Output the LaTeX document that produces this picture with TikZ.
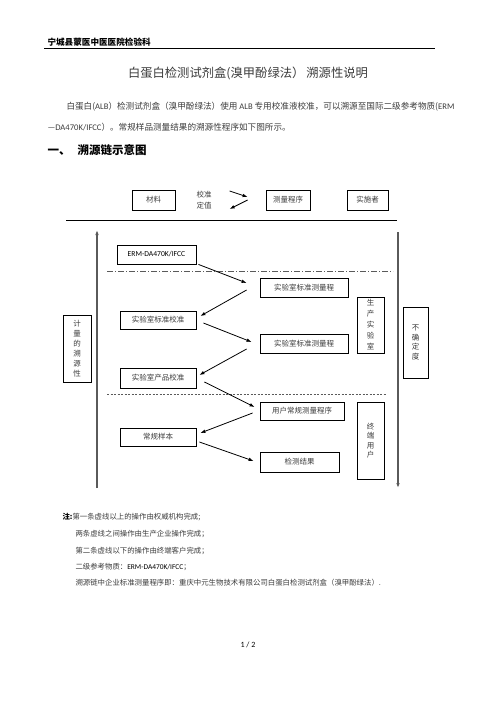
\documentclass[tikz,border=0pt]{standalone}
\usepackage{fontspec}
\setmainfont{Noto Sans CJK SC}
\newfontfamily\latinfont{Carlito}
\usetikzlibrary{arrows.meta}
\definecolor{inkgray}{RGB}{60,60,60}
\definecolor{linegray}{RGB}{90,90,90}

\begin{document}
\begin{tikzpicture}[x=1pt,y=-1pt,>={Latex[length=5pt,width=3.6pt]},
    box/.style={draw,line width=0.8pt,inner sep=0pt,text=inkgray,
      font=\fontsize{7.5}{9}\selectfont},
    vbox/.style={box,align=center,font=\fontsize{7.5}{#1}\selectfont},
    link/.style={->,line width=0.8pt},
    txt/.style={anchor=west,text=inkgray,font=\fontsize{7.4}{9}\selectfont}]
  \fill[white] (0,0) rectangle (496,702);
  \useasboundingbox (0,0) rectangle (496,702);

  % page head
  \node[anchor=west,font=\bfseries\fontsize{8.6}{10}\selectfont] (hosp) at (44,42) {宁城县蒙医中医医院检验科};
  \draw[line width=0.9pt] (44,48) -- (435,48);
  \node[font=\fontsize{12.3}{14}\selectfont,text=inkgray] (title) at (248,73)
    {白蛋白检测试剂盒(溴甲酚绿法）\,溯源性说明};
  \node[anchor=west,text=inkgray,font=\fontsize{8.6}{10}\selectfont] (para1) at (63,107)
    {白蛋白({\latinfont ALB}）检测试剂盒（溴甲酚绿法）使用 {\latinfont ALB} 专用校准液校准，可以溯源至国际二级参考物质({\latinfont ERM}};
  \node[anchor=west,text=inkgray,font=\fontsize{8.6}{10}\selectfont] (para2) at (44,127)
    {{\latinfont —DA470K/IFCC}）。常规样品测量结果的溯源性程序如下图所示。};
  \node[anchor=west,font=\bfseries\fontsize{11.5}{13}\selectfont] (sec) at (44,150)
    {一、\hspace{7pt}溯源链示意图};

  % top row
  \node[box,minimum width=43,minimum height=20] (mat) at (153.5,200) {材料};
  \node[box,minimum width=44,minimum height=20] (proc) at (288,200) {测量程序};
  \node[box,minimum width=41,minimum height=20] (actor) at (367.5,200) {实施者};
  \node[align=center,text=inkgray,font=\fontsize{7.5}{11}\selectfont] (calib) at (204,200) {校准\\定值};
  \draw[link] ([shift={(-36,-9)}]proc.west) -- ([shift={(-18,-3)}]proc.west);
  \draw[link] ([shift={(-18,0)}]proc.west) -- ([shift={(-36,9)}]proc.west);
  \draw[line width=0.9pt] (66,220) -- (397,220);

  % side axes
  \draw[->,line width=1.2pt,linegray] (97,488) -- (97,230);
  \draw[->,line width=1.2pt,linegray] (398,232) -- (398,488);
  \node[vbox=10,minimum width=28,minimum height=67] (trace) at (77,348.5) {计\\量\\的\\溯\\源\\性};
  \node[vbox=9.5,minimum width=25,minimum height=71] (unc) at (415.5,342.5) {不\\确\\定\\度};

  % chain
  \node[box,minimum width=79,minimum height=19,font=\latinfont\fontsize{7.6}{9}\selectfont,text=black] (erm) at (156.5,254.5) {ERM-DA470K/IFCC};
  \draw[linegray,line width=0.7pt,dash pattern=on 6pt off 2pt on 1pt off 2pt] (107,271) -- (393,271);
  \node[box,minimum width=88,minimum height=19] (lsm1) at (304,287.5) {实验室标准测量程};
  \node[box,minimum width=76,minimum height=18] (lsc) at (158,320) {实验室标准校准};
  \node[box,minimum width=88,minimum height=19] (lsm2) at (304,343.5) {实验室标准测量程};
  \node[box,minimum width=76,minimum height=20] (lpc) at (158,378) {实验室产品校准};
  \node[vbox=11,minimum width=27,minimum height=56] (prodlab) at (370.5,325) {生\\产\\实\\验\\室};
  \draw[linegray,line width=0.7pt,dash pattern=on 2pt off 1.5pt] (107,394) -- (387,394);
  \node[box,minimum width=84,minimum height=18] (urp) at (302,411) {用户常规测量程序};
  \node[box,minimum width=76,minimum height=18] (rs) at (158,437) {常规样本};
  \node[box,minimum width=79,minimum height=20] (res) at (299.5,462) {检测结果};
  \node[vbox=9.5,minimum width=27,minimum height=77] (enduser) at (370.5,440.5) {终\\端\\用\\户};

  \draw[link] ([shift={(2,0)}]erm.south east) -- ([shift={(-13,-4.5)}]lsm1.west);
  \draw[link] ([shift={(-13,2.5)}]lsm1.west) -- ([shift={(4,-4)}]lsc.east);
  \draw[link] ([shift={(7,3)}]lsc.east) -- ([shift={(-8,-1.5)}]lsm2.west);
  \draw[link] ([shift={(-13,5.5)}]lsm2.west) -- ([shift={(3,-3)}]lpc.east);
  \draw[link] ([shift={(8,4)}]lpc.east) -- ([shift={(-5,-4)}]urp.west);
  \draw[link] ([shift={(-7,2)}]urp.west) -- ([shift={(4,-4)}]rs.east);
  \draw[link] ([shift={(3,5)}]rs.east) -- ([shift={(-6,-1)}]res.west);

  % notes
  \node[txt] (note1) at (59,517) {{\bfseries\color{black}注:}第一条虚线以上的操作由权威机构完成;};
  \node[txt] (note2) at (72,534) {两条虚线之间操作由生产企业操作完成；};
  \node[txt] (note3) at (72,551) {第二条虚线以下的操作由终端客户完成；};
  \node[txt] (note4) at (72,567) {二级参考物质：{\latinfont\color{black} ERM-DA470K/IFCC}；};
  \node[txt] (note5) at (72,583) {溯源链中企业标准测量程序即：重庆中元生物技术有限公司白蛋白检测试剂盒（溴甲酚绿法）.};
  \node[font=\latinfont\fontsize{8}{9}\selectfont] (page) at (248,645) {1 / 2};
\end{tikzpicture}
\end{document}
